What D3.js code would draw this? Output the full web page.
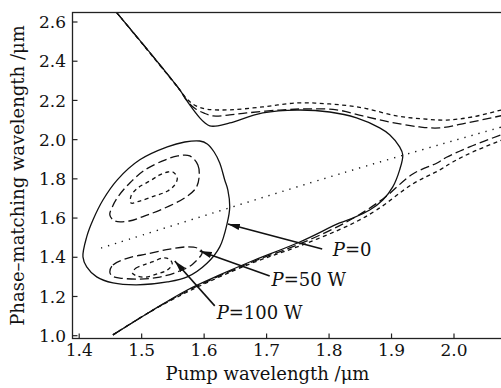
<!DOCTYPE html>
<html><head><meta charset="utf-8">
<script src="https://cdn.jsdelivr.net/npm/d3@7"></script>
<style>
html,body{margin:0;padding:0;background:#fff;}
svg{display:block;}
text{font-family:"DejaVu Serif",serif;fill:#111;}
</style></head>
<body>
<svg id="chart" width="501" height="388"></svg>
<script>
// ---------- data (pump wavelength, phase-matching wavelength) in µm ----------
const xTicks = [1.4, 1.5, 1.6, 1.7, 1.8, 1.9, 2.0];
const yTicks = [1.0, 1.2, 1.4, 1.6, 1.8, 2.0, 2.2, 2.4, 2.6];

// P = 0 : open curve (upper branch -> turnaround -> lower branch)
const p0Main = [[1.46,2.648],[1.561,2.254],[1.577,2.177],[1.593,2.111],[1.601,2.086],[1.609,2.070],[1.622,2.070],
  [1.641,2.085],[1.694,2.136],[1.749,2.151],[1.801,2.141],[1.844,2.111],[1.881,2.060],[1.897,2.025],[1.913,1.963],
  [1.918,1.922],[1.913,1.846],[1.902,1.759],[1.886,1.692],[1.865,1.641],[1.838,1.600],[1.817,1.575],[1.753,1.478],
  [1.673,1.376],[1.625,1.310],[1.573,1.233],[1.513,1.121],[1.454,1.004]];
// P = 0 : closed loop
const p0Loop = [[1.593,1.993],[1.569,1.988],[1.541,1.963],[1.497,1.897],[1.461,1.795],[1.438,1.692],[1.422,1.590],
  [1.412,1.504],[1.406,1.402],[1.412,1.351],[1.428,1.300],[1.454,1.269],[1.492,1.259],[1.541,1.274],[1.573,1.300],
  [1.605,1.371],[1.625,1.453],[1.637,1.575],[1.641,1.657],[1.638,1.743],[1.633,1.794],[1.625,1.881],[1.616,1.937],[1.605,1.978]];

// P = 50 W
const p50Upper = [[1.46,2.648],[1.561,2.254],[1.572,2.200],[1.585,2.160],[1.600,2.135],[1.614,2.121],[1.641,2.126],[1.668,2.136],
  [1.721,2.151],[1.764,2.157],[1.812,2.152],[1.854,2.121],[1.897,2.090],[1.945,2.065],[1.977,2.060],[2.020,2.085],[2.08,2.125]];
const p50Lower = [[1.454,1.004],[1.513,1.121],[1.573,1.228],[1.673,1.371],[1.753,1.468],[1.828,1.580],[1.886,1.697],
  [1.934,1.825],[1.973,1.881],[1.988,1.910],[2.025,1.963],[2.08,2.030]];
const p50LoopA = [[1.577,1.917],[1.590,1.871],[1.592,1.810],[1.587,1.754],[1.569,1.703],[1.534,1.647],[1.505,1.611],
  [1.480,1.585],[1.457,1.585],[1.449,1.616],[1.453,1.657],[1.462,1.708],[1.481,1.779],[1.505,1.845],[1.537,1.896],[1.558,1.917]];
const p50LoopB = [[1.449,1.325],[1.454,1.361],[1.478,1.396],[1.509,1.417],[1.545,1.442],[1.573,1.453],[1.589,1.447],
  [1.597,1.427],[1.582,1.366],[1.561,1.330],[1.529,1.299],[1.497,1.289],[1.465,1.294],[1.453,1.304]];

// P = 100 W
const p100Upper = [[1.46,2.648],[1.561,2.254],[1.573,2.205],[1.587,2.172],[1.605,2.155],[1.641,2.152],[1.694,2.167],[1.749,2.187],
  [1.801,2.182],[1.854,2.162],[1.908,2.121],[1.950,2.106],[1.988,2.100],[2.030,2.116],[2.08,2.155]];
const p100Lower = [[1.454,1.004],[1.513,1.121],[1.573,1.223],[1.673,1.366],[1.753,1.458],[1.833,1.565],[1.876,1.641],
  [1.934,1.774],[1.977,1.845],[1.998,1.886],[2.030,1.937],[2.08,2.002]];
const p100LoopA = [[1.550,1.835],[1.557,1.805],[1.553,1.769],[1.541,1.737],[1.521,1.713],[1.497,1.687],[1.483,1.677],
  [1.483,1.713],[1.494,1.754],[1.513,1.789],[1.529,1.820],[1.542,1.835]];
const p100LoopB = [[1.485,1.320],[1.491,1.345],[1.502,1.360],[1.517,1.376],[1.534,1.396],[1.544,1.391],[1.549,1.366],
  [1.541,1.335],[1.525,1.315],[1.506,1.299],[1.493,1.304]];

// dotted reference line
const dotted = [[1.435,1.447],[1.822,1.830],[2.08,2.068]];

// annotations: label, arrow start, arrow tip, label anchor
const annoLabels = ["0", "50 W", "100 W"];
const annoFrom = [[1.789,1.442],[1.705,1.305],[1.617,1.152]];
const annoTo   = [[1.638,1.570],[1.593,1.432],[1.553,1.381]];
const annoText = [[1.806,1.407],[1.708,1.254],[1.620,1.085]];

// ---------- layout ----------
const svg = d3.select("#chart");
const x = d3.scaleLinear().domain([1.4, 2.0]).range([79.2, 454]);
const y = d3.scaleLinear().domain([1.0, 2.6]).range([335.7, 22]);
const box = {left: 72.5, top: 12.5, bottom: 338.5, right: 520};

svg.append("defs").append("clipPath").attr("id","clip")
  .append("rect").attr("x", box.left).attr("y", box.top)
  .attr("width", box.right - box.left).attr("height", box.bottom - box.top);
const marker = svg.select("defs").append("marker").attr("id","arrow")
  .attr("viewBox","0 0 12 8").attr("refX",12).attr("refY",4)
  .attr("markerWidth",12).attr("markerHeight",8).attr("markerUnits","userSpaceOnUse")
  .attr("orient","auto");
marker.append("path").attr("d","M0,0.8 L12,4 L0,7.2 Z").attr("fill","#111");

const g = svg.append("g").attr("clip-path","url(#clip)");
const line = d3.line().x(d => x(d[0])).y(d => y(d[1])).curve(d3.curveCatmullRom.alpha(0.5));
const loop = d3.line().x(d => x(d[0])).y(d => y(d[1])).curve(d3.curveCatmullRomClosed.alpha(0.5));

const styles = {
  solid: null,
  long: "9,4",
  short: "4,3.5",
  dot: "1.3,6"
};
function draw(data, gen, dash, w) {
  g.append("path").attr("d", gen(data)).attr("fill","none").attr("stroke","#111")
    .attr("stroke-width", w || 1.3).attr("stroke-dasharray", dash);
}
draw(dotted, line, styles.dot, 1.4);
draw(p100Upper, line, styles.short); draw(p100Lower, line, styles.short);
draw(p100LoopA, loop, styles.short); draw(p100LoopB, loop, styles.short);
draw(p50Upper, line, styles.long); draw(p50Lower, line, styles.long);
draw(p50LoopA, loop, styles.long); draw(p50LoopB, loop, styles.long);
draw(p0Main, line, styles.solid); draw(p0Loop, loop, styles.solid);

// ---------- frame & axes ----------
svg.append("rect").attr("x", box.left).attr("y", box.top)
  .attr("width", box.right - box.left).attr("height", box.bottom - box.top)
  .attr("fill","none").attr("stroke","#222").attr("stroke-width",1.3);

const fmt = d3.format(".1f");
const xAxis = svg.append("g");
xAxis.selectAll("line").data(xTicks).join("line")
  .attr("x1", d => x(d)).attr("x2", d => x(d)).attr("y1", box.bottom).attr("y2", box.bottom - 5)
  .attr("stroke","#222").attr("stroke-width",1.2);
xAxis.selectAll("text").data(xTicks).join("text")
  .attr("x", d => x(d)).attr("y", 356).attr("text-anchor","middle")
  .attr("font-size", 17).text(fmt);

const yAxis = svg.append("g");
yAxis.selectAll("line").data(yTicks).join("line")
  .attr("x1", box.left).attr("x2", box.left + 5).attr("y1", d => y(d)).attr("y2", d => y(d))
  .attr("stroke","#222").attr("stroke-width",1.2);
yAxis.selectAll("text").data(yTicks).join("text")
  .attr("x", 66).attr("y", d => y(d)).attr("dy","0.36em").attr("text-anchor","end")
  .attr("font-size", 17).text(fmt);

svg.append("text").attr("x", 267.5).attr("y", 380).attr("text-anchor","middle")
  .attr("font-size", 18).text("Pump wavelength /μm");
svg.append("text").attr("transform","translate(24,175.5) rotate(-90)").attr("text-anchor","middle")
  .attr("font-size", 18).text("Phase–matching wavelength /μm");

// ---------- annotations ----------
annoLabels.forEach((lab, i) => {
  svg.append("line")
    .attr("x1", x(annoFrom[i][0])).attr("y1", y(annoFrom[i][1]))
    .attr("x2", x(annoTo[i][0])).attr("y2", y(annoTo[i][1]))
    .attr("stroke","#111").attr("stroke-width",1.6).attr("marker-end","url(#arrow)");
  const t = svg.append("text").attr("x", x(annoText[i][0])).attr("y", y(annoText[i][1])).attr("font-size", 18);
  t.append("tspan").attr("font-style","italic").text("P");
  t.append("tspan").text("=" + lab);
});
</script>
</body></html>
